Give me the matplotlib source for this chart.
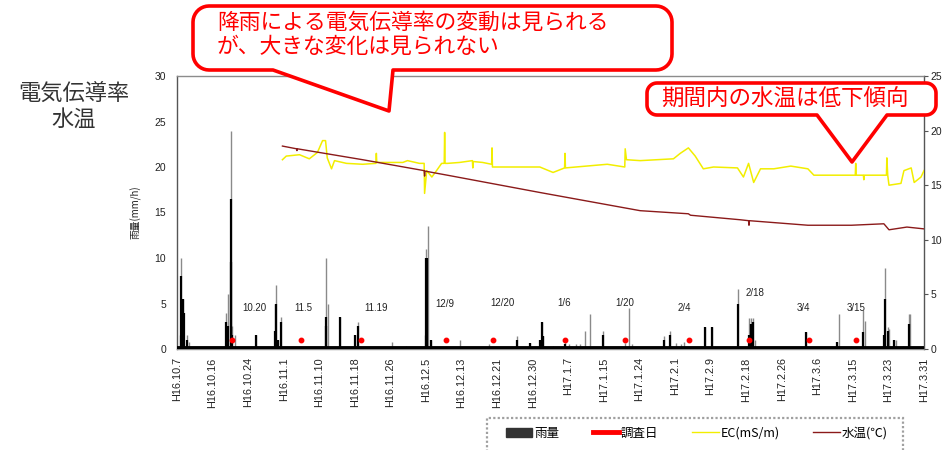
import matplotlib
matplotlib.use("Agg")
import matplotlib.pyplot as plt
from matplotlib.patches import Polygon, Rectangle
from matplotlib.lines import Line2D
from matplotlib.transforms import IdentityTransform
import numpy as np

plt.rcParams['font.family'] = ['Noto Sans CJK JP', 'DejaVu Sans']

# ---------------- data (x = days since H16.10.7 0:00) ----------------
tick_labels = ["H16.10.7", "H16.10.16", "H16.10.24", "H16.11.1", "H16.11.10", "H16.11.18",
               "H16.11.26", "H16.12.5", "H16.12.13", "H16.12.21", "H16.12.30", "H17.1.7",
               "H17.1.15", "H17.1.24", "H17.2.1", "H17.2.9", "H17.2.18", "H17.2.26",
               "H17.3.6", "H17.3.15", "H17.3.23", "H17.3.31"]
period_days = 175

rain_gray_days = [0.6, 1.0, 1.4, 2.3, 2.8, 11.4, 11.9, 12.6, 13.0, 13.5, 18.6, 22.9, 23.2, 23.6, 24.4,
                  34.8, 35.4, 38.3, 41.8, 42.3, 50.3, 53.7, 58.0, 58.3, 58.8, 59.6, 66.2, 73.0, 79.6,
                  82.7, 85.0, 85.4, 85.7, 88.0, 91.0, 91.8, 93.5, 94.5, 95.6, 96.8, 99.9, 104.9, 106.0,
                  106.7, 114.0, 115.6, 116.8, 118.0, 118.8, 123.6, 125.4, 131.5, 133.9, 134.5, 135.0,
                  135.5, 147.3, 154.6, 155.0, 158.0, 160.8, 161.2, 165.6, 165.9, 166.5, 166.9, 168.0,
                  168.5, 170.0, 171.4, 171.8]
rain_gray = [1.5, 10.0, 5.5, 1.5, 0.8, 4.0, 6.0, 24.0, 2.5, 1.5, 1.5, 5.0, 7.0, 1.0, 3.5,
             10.0, 5.0, 3.5, 1.5, 3.0, 0.8, 0.3, 1.5, 11.0, 13.5, 1.0, 1.0, 0.5, 1.4,
             0.7, 1.0, 3.0, 1.4, 0.3, 1.0, 0.5, 0.5, 0.5, 2.0, 3.9, 2.0, 0.7, 4.5,
             0.5, 1.4, 2.0, 0.7, 0.5, 0.8, 2.4, 2.4, 6.6, 3.4, 3.4, 3.4,
             1.0, 1.9, 0.8, 3.9, 0.3, 4.3, 3.1, 1.5, 8.9, 2.4, 2.2, 1.0,
             1.0, 0.3, 3.9, 3.9]

rain_days = [1.0, 1.3, 1.6, 2.3, 11.4, 11.9, 12.6, 12.7, 13.0, 18.6, 22.9, 23.1, 23.6, 24.4,
             34.8, 35.0, 38.3, 41.8, 42.3, 58.3, 58.6, 59.6, 79.6, 82.7, 85.0, 85.4, 85.7, 91.0,
             99.9, 114.0, 115.6, 123.6, 125.4, 131.5, 133.9, 134.5, 135.0, 147.3, 154.6, 160.8,
             165.6, 165.9, 166.5, 168.0, 171.4]
rain = [8.0, 5.5, 4.0, 1.0, 3.0, 2.5, 9.6, 16.5, 1.5, 1.5, 2.0, 5.0, 1.0, 3.0,
        3.5, 2.5, 3.5, 1.5, 2.5, 10.0, 10.0, 1.0, 1.0, 0.7, 1.0, 3.0, 1.4, 0.5,
        1.5, 1.0, 1.5, 2.4, 2.4, 5.0, 1.5, 2.7, 3.0, 1.9, 0.8, 1.9,
        1.5, 5.5, 2.0, 1.0, 2.7]

survey_days = [13, 29, 43, 63, 74, 91, 105, 120, 134, 148, 159]
survey_level = 1.0
survey_labels = ["10.20", "11.5", "11.19", "12/9", "12/20", "1/6", "1/20", "2/4", "2/18", "3/4", "3/15"]
survey_label_x = [18.1, 29.6, 46.7, 62.7, 76.3, 90.7, 104.8, 118.9, 135.5, 146.8, 159.0]
survey_label_y = [4.5, 4.5, 4.5, 4.9, 5.0, 5.0, 5.0, 4.5, 6.2, 4.5, 4.5]

ec_days = [24.7, 25.6, 28.7, 31.0, 32.9, 34.1, 34.8, 35.2, 36.2, 36.9, 39.7, 43.5, 46.6, 46.7, 46.8,
           48.2, 52.9, 54.0, 56.8, 57.9, 58.0, 58.5, 59.7, 60.8, 62.0, 62.6, 62.7, 62.8, 63.4, 66.2,
           69.2, 69.3, 69.4, 71.6, 73.7, 73.8, 73.9, 85.0, 88.1, 90.8, 90.9, 91.0, 100.8, 104.9,
           105.0, 105.3, 108.5, 116.3, 117.9, 119.8, 121.4, 123.3, 125.7, 131.3, 132.7, 133.9,
           135.1, 136.7, 139.8, 143.8, 147.8, 149.2, 155.5, 158.9, 159.0, 159.1, 160.8, 160.9,
           161.0, 165.6, 166.2, 166.3, 166.5, 166.8, 169.6, 170.3, 172.0, 172.7, 174.3, 175.0]
ec = [20.8, 21.2, 21.35, 20.9, 21.6, 22.9, 22.9, 21.0, 19.8, 20.7, 20.4, 20.3, 20.4, 21.5, 20.5,
      20.5, 20.5, 20.7, 20.4, 20.4, 17.1, 19.6, 18.9, 19.6, 20.4, 20.4, 23.8, 20.4, 20.4, 20.5,
      20.7, 19.9, 20.6, 20.5, 20.3, 22.1, 20.0, 20.0, 19.4, 19.9, 21.5, 19.9, 20.3, 20.0,
      22.0, 20.8, 20.7, 20.9, 21.5, 22.1, 21.2, 19.8, 20.0, 19.9, 18.9, 20.4,
      18.3, 19.8, 19.8, 20.1, 19.8, 19.1, 19.1, 19.1, 20.4, 19.1, 19.1, 18.6,
      19.1, 19.1, 19.1, 21.0, 19.1, 18.0, 18.2, 19.6, 19.9, 18.3, 18.9, 19.6]

temp_days = [24.7, 28.0, 28.1, 28.2, 43.5, 57.9, 58.0, 58.1, 63.9, 85.0, 108.5, 119.8, 120.3,
             132.0, 133.9, 134.0, 134.1, 147.8, 158.0, 165.6, 166.8, 171.0, 175.0]
temp = [22.3, 22.0, 21.8, 22.0, 20.8, 19.6, 19.0, 19.55, 19.05, 17.2, 15.2, 14.86, 14.7,
        14.2, 14.1, 13.6, 14.1, 13.6, 13.6, 13.76, 13.1, 13.4, 13.2]

callout1_lines = ["降雨による電気伝導率の変動は見られる", "が、大きな変化は見られない"]
callout2_text = "期間内の水温は低下傾向"
side_title = "電気伝導率\n水温"

# ---------------- figure ----------------
W, H = 942, 450
fig = plt.figure(figsize=(W / 100, H / 100), dpi=100)
fig.patch.set_facecolor("white")

def fx(px):
    return px / W

def fy(py):
    return 1 - py / H

ax = fig.add_axes([fx(177), fy(349), (924 - 177) / W, (349 - 76) / H])
ax.set_xlim(0, period_days)
ax.set_ylim(0, 30)

num_font = "Liberation Sans"

# rainfall
ax.vlines(rain_gray_days, 0, rain_gray, colors="#8a8a8a", lw=1.0, zorder=2)
ax.vlines(rain_days, 0, rain, colors="black", lw=1.6, zorder=3)
ax.axhline(0.15, color="black", lw=3.5, zorder=3)

# EC & temperature
ax.plot(ec_days, ec, color="#f2ee00", lw=1.1, zorder=4)
ax.plot(temp_days, temp, color="#8b1a1a", lw=1.0, zorder=4)

# survey days
ax.plot(survey_days, [survey_level] * len(survey_days), "o", color="red", ms=3.2, zorder=5)
for x, y, s in zip(survey_label_x, survey_label_y, survey_labels):
    ax.text(x, y, s, ha="center", va="center", fontsize=7, family=num_font, color="#222222")

# axes styling
ax.set_yticks(range(0, 31, 5))
ax.set_xticks(np.linspace(0, period_days, len(tick_labels)))
ax.set_xticklabels(tick_labels, rotation=90, fontsize=7.8, family=num_font, color="#222222")
ax.tick_params(axis="x", length=0, pad=6)
ax.tick_params(axis="y", length=0, pad=8, labelsize=7.5, labelcolor="#222222")
for lab in ax.get_yticklabels():
    lab.set_family(num_font)
for sp in ax.spines.values():
    sp.set_color("#8c8c8c")
    sp.set_linewidth(1.0)
ax.spines["left"].set_color("#555555")
ax.set_ylabel("雨量(mm/h)", fontsize=7, labelpad=2, color="#222222")
ax.yaxis.set_label_coords(-0.047, 0.5)

ax2 = ax.twinx()
ax2.set_ylim(0, 25)
ax2.set_yticks(range(0, 26, 5))
ax2.tick_params(axis="y", length=3, pad=1.5, labelsize=7.5, labelcolor="#222222", color="#555555")
for lab in ax2.get_yticklabels():
    lab.set_family(num_font)
for sp in ax2.spines.values():
    sp.set_visible(False)
ax.spines["right"].set_color("#555555")

# side title
fig.text(fx(74), fy(106), side_title, ha="center", va="center", fontsize=16,
         color="#333333", linespacing=1.15)

# ---------------- callouts ----------------
def callout(x0, y0, x1, y1, r, xa, xtip, ytip, xb, lw=2.6):
    pts = []
    def arc(cx, cy, a0, a1):
        for a in np.linspace(np.radians(a0), np.radians(a1), 10):
            pts.append((cx + r * np.cos(a), cy + r * np.sin(a)))
    arc(x0 + r, y0 + r, 180, 270)
    arc(x1 - r, y0 + r, 270, 360)
    arc(x1 - r, y1 - r, 0, 90)
    pts.append((xb, y1))
    pts.append((xtip, ytip))
    pts.append((xa, y1))
    arc(x0 + r, y1 - r, 90, 180)
    disp = [(px, H - py) for px, py in pts]
    poly = Polygon(disp, closed=True, facecolor="white", edgecolor="#ff0000", lw=lw,
                   joinstyle="round", transform=IdentityTransform(), zorder=10)
    fig.add_artist(poly)

callout(193, 6, 672, 70, 16, 273, 389, 111, 393)
fig.text(fx(217), fy(23), callout1_lines[0], ha="left", va="center", fontsize=15.7,
         color="#ff0000", zorder=11)
fig.text(fx(217), fy(47), callout1_lines[1], ha="left", va="center", fontsize=15.7,
         color="#ff0000", zorder=11)

callout(647, 83, 936, 115, 10, 817, 852, 162, 887)
fig.text(fx(661), fy(99), callout2_text, ha="left", va="center", fontsize=16.2,
         color="#ff0000", zorder=11)

# ---------------- legend ----------------
fig.add_artist(Rectangle((fx(487), fy(470)), (903 - 487) / W, (470 - 418) / H,
                         transform=fig.transFigure, facecolor="white", edgecolor="#a0a0a0",
                         lw=1.6, ls=(0, (1, 1)), zorder=1))
handles = [Rectangle((0, 0), 1, 1, facecolor="#333333", edgecolor="#333333"),
           Line2D([], [], color="red", lw=3.5),
           Line2D([], [], color="#f2ee00", lw=1.0),
           Line2D([], [], color="#8b1a1a", lw=1.0)]
labels = ["雨量", "調査日", "EC(mS/m)", "水温(℃)"]
leg = fig.legend(handles, labels, loc="center left", bbox_to_anchor=(fx(506), fy(433)),
                 ncol=4, frameon=False, fontsize=9, handlelength=2.1, handleheight=0.7,
                 handletextpad=0.15, columnspacing=2.7, borderaxespad=0, borderpad=0)

fig.savefig("out.png", dpi=100, facecolor="white")
